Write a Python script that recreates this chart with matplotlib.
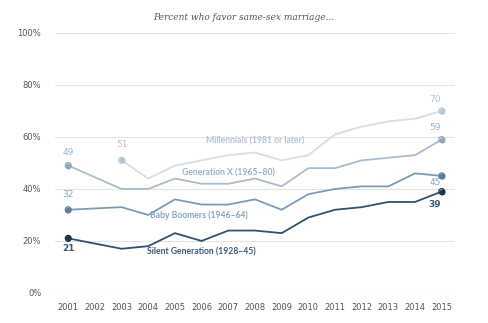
import numpy as np
import matplotlib.pyplot as plt

years = [2001, 2002, 2003, 2004, 2005, 2006, 2007, 2008, 2009, 2010, 2011, 2012, 2013, 2014, 2015]

# 2002 has no survey, lines skip it
millennials = [np.nan, np.nan, 51, 44, 49, 51, 53, 54, 51, 53, 61, 64, 66, 67, 70]
gen_x = [49, np.nan, 40, 40, 44, 42, 42, 44, 41, 48, 48, 51, 52, 53, 59]
boomers = [32, np.nan, 33, 30, 36, 34, 34, 36, 32, 38, 40, 41, 41, 46, 45]
silent = [21, np.nan, 17, 18, 23, 20, 24, 24, 23, 29, 32, 33, 35, 35, 39]

series_names = ["Millennials (1981 or later)", "Generation X (1965\u201380)",
                "Baby Boomers (1946\u201364)", "Silent Generation (1928\u201345)"]

line_colors = ["#d6dfe8", "#a9bdd0", "#7e9bb6", "#34506c"]
dot_colors = ["#b9c7d5", "#8eaac3", "#5b7c9b", "#1e3349"]
text_colors = ["#b3c4d4", "#9bb2c8", "#86a4bf", "#3d5874"]

fig = plt.figure(figsize=(4.88, 3.23), dpi=100)
ax = fig.add_axes([0.113, 0.093, 0.819, 0.805])

x = np.array(years)
for vals, lc, dc in zip([millennials, gen_x, boomers, silent], line_colors, dot_colors):
    v = np.array(vals, dtype=float)
    ok = ~np.isnan(v)
    ax.plot(x[ok], v[ok], color=lc, lw=1.3, zorder=3)
    xs = x[ok][[0, -1]]
    ys = v[ok][[0, -1]]
    ax.scatter(xs, ys, s=18, color=dc, linewidths=0, zorder=4)
    ax.scatter(xs, ys, s=18, facecolor="none", edgecolor=dc, linewidths=0.9, zorder=5)

# series labels
label_pos = [(2008.0, 58.5), (2007.0, 46.3), (2005.9, 30.0), (2006.0, 15.8)]
for name, (lx, ly), tc in zip(series_names, label_pos, text_colors):
    ax.text(lx, ly, name, color=tc, fontsize=6.2, fontweight="bold", family="Lato",
            ha="center", va="center", zorder=6)

# value labels at ends
end_labels = [
    (2001, 54.0, "49", text_colors[1]),
    (2003, 57.0, "51", text_colors[0]),
    (2001, 37.7, "32", text_colors[2]),
    (2001, 17.0, "21", text_colors[3]),
    (2014.75, 74.3, "70", text_colors[0]),
    (2014.75, 63.6, "59", text_colors[1]),
    (2014.75, 42.6, "45", text_colors[2]),
    (2014.75, 34.0, "39", text_colors[3]),
]
for lx, ly, s, tc in end_labels:
    w = "bold" if s in ("21", "39") else "normal"
    ax.text(lx, ly, s, color=tc, fontsize=6.5, fontweight=w, ha="center", va="center")

ax.set_xlim(2000.51, 2015.49)
ax.set_ylim(0, 100)
ax.set_xticks(years)
ax.set_xticklabels([str(y) for y in years])
ax.set_yticks([0, 20, 40, 60, 80, 100])
ax.set_yticklabels(["0%", "20%", "40%", "60%", "80%", "100%"])
ax.tick_params(length=0, labelsize=6, colors="#555555", pad=7)
ax.tick_params(axis="y", pad=10)
ax.grid(axis="y", color="#e4e4e4", lw=0.8)
ax.set_axisbelow(True)
for sp in ax.spines.values():
    sp.set_visible(False)

fig.text(0.5, 0.947, "Percent who favor same-sex marriage...", fontsize=6.5,
         style="italic", family="DejaVu Serif", color="#555555", ha="center", va="center")

fig.savefig("out.png", dpi=100)
